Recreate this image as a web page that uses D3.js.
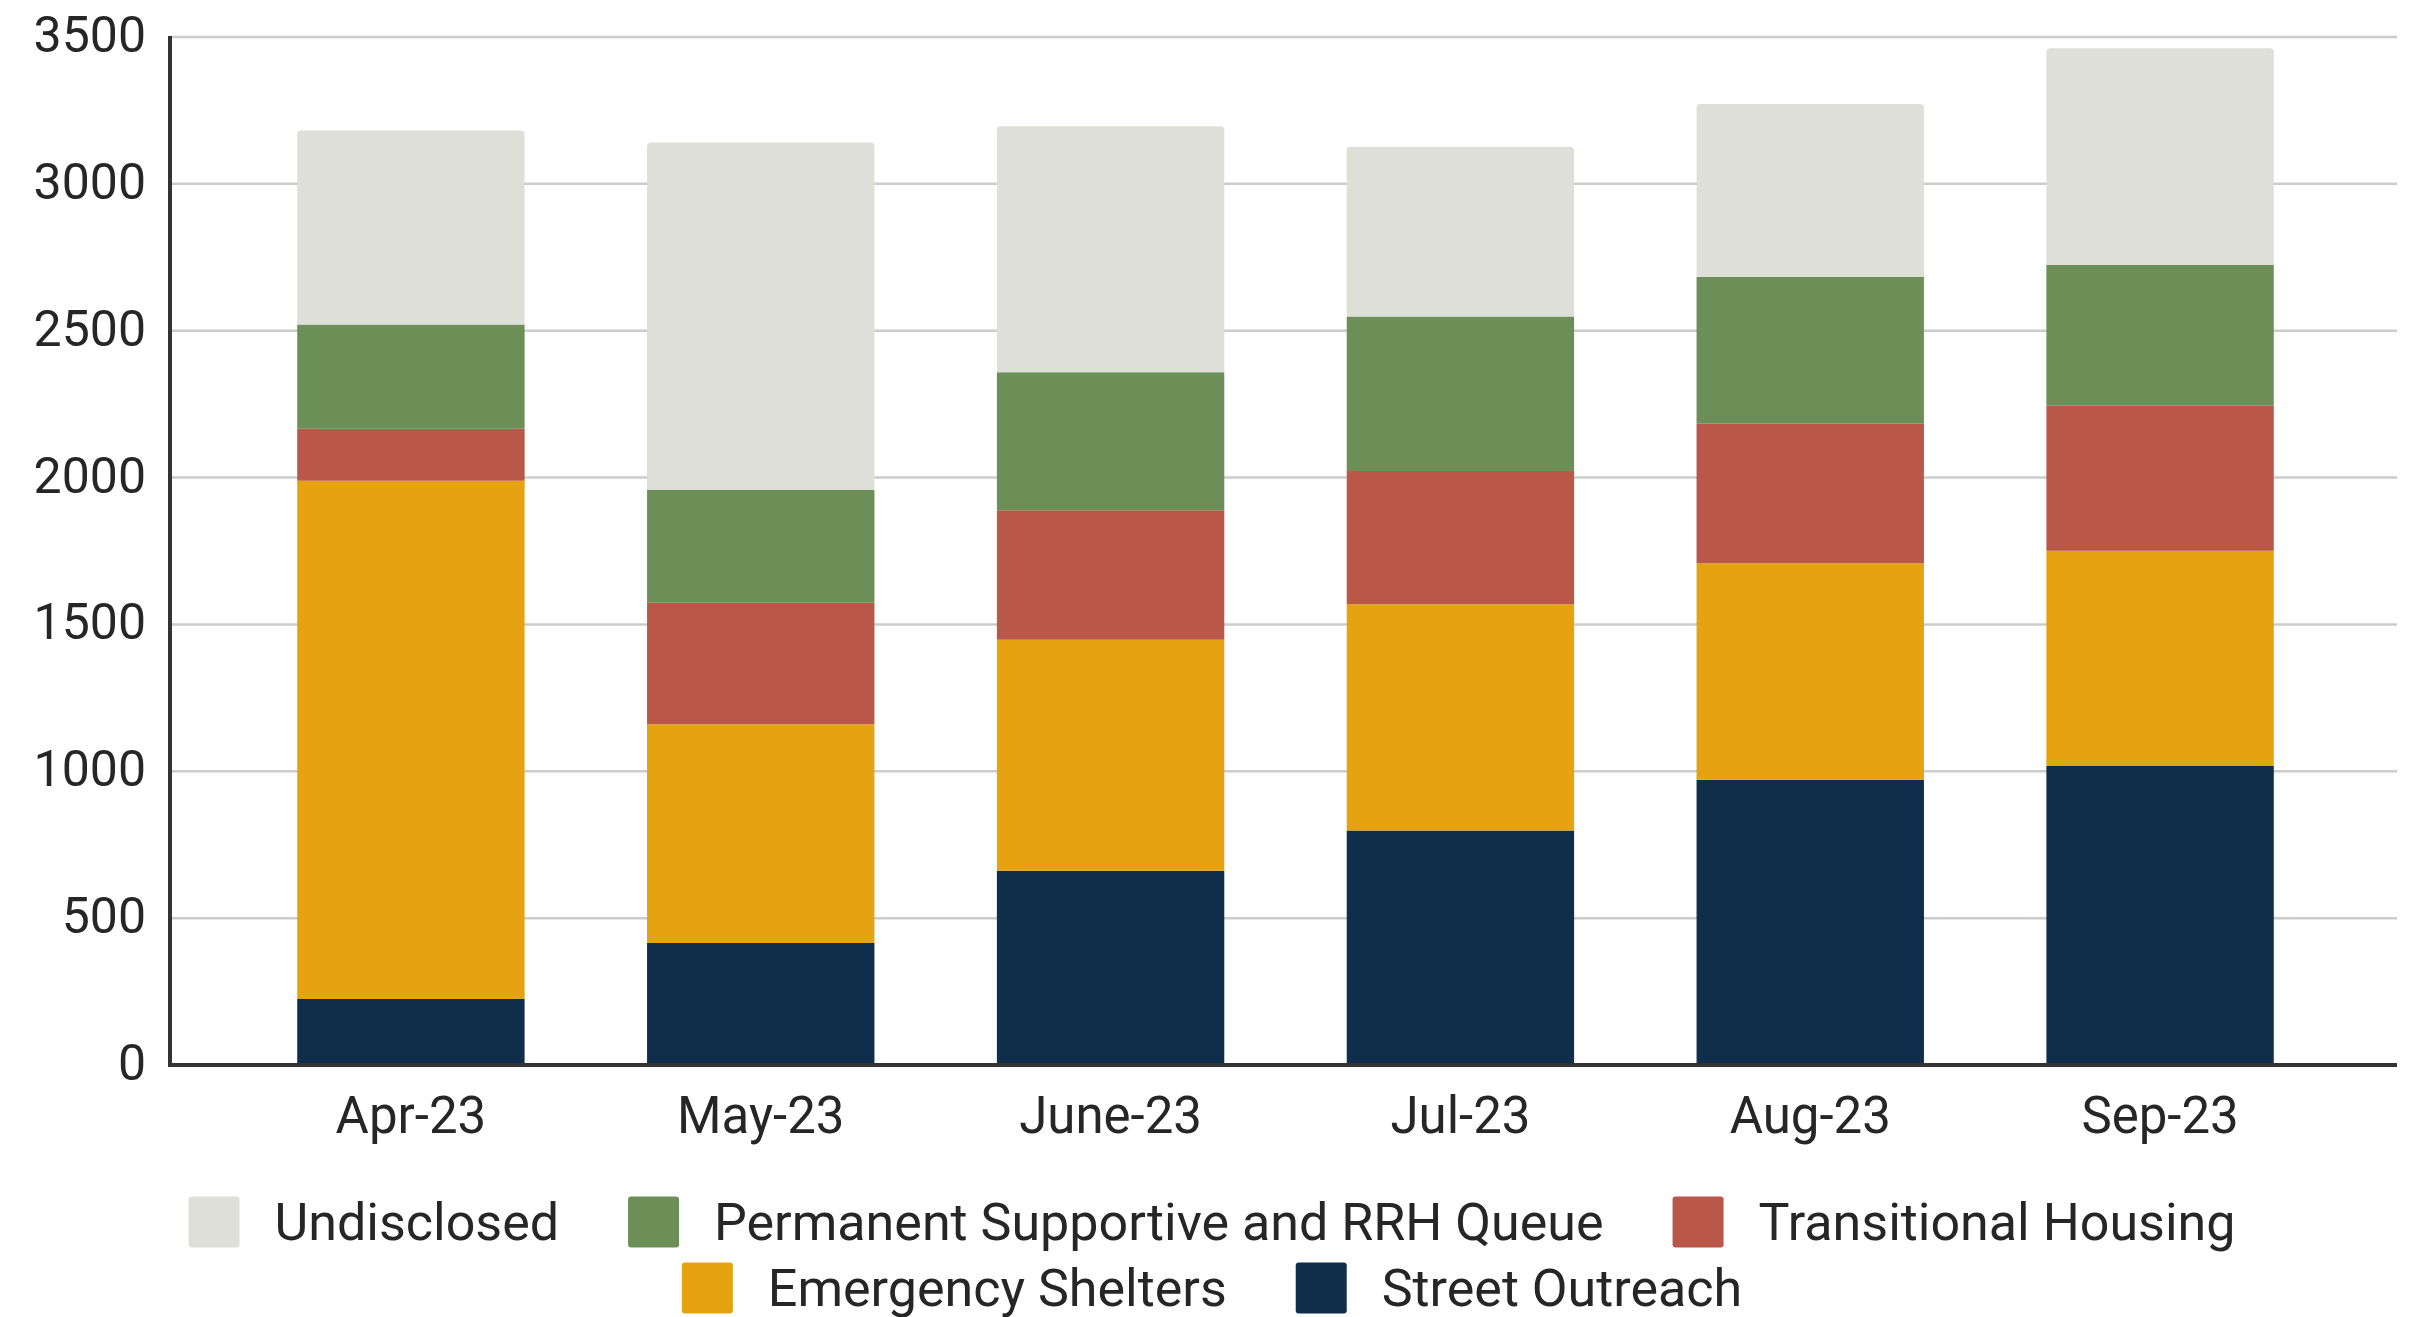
<!DOCTYPE html>
<html>
<head>
<meta charset="utf-8">
<script src="https://cdn.jsdelivr.net/npm/d3@7"></script>
<style>
  body { margin: 0; background: #fff; }
  text { font-family: Roboto, "Noto Sans", sans-serif; fill: #262626; }
</style>
</head>
<body>
<div id="chart-container"></div>
<script>
// months along the bottom
const months = ["Apr-23", "May-23", "June-23", "Jul-23", "Aug-23", "Sep-23"];

// series, bottom of stack first
const seriesNames = ["Street Outreach", "Emergency Shelters", "Transitional Housing", "Permanent Supportive and RRH Queue", "Undisclosed"];
const streetOutreach = [225, 415, 661, 798, 971, 1018];
const emergencyShelters = [1764, 745, 787, 771, 737, 733];
const transitionalHousing = [177, 414, 441, 453, 475, 494];
const permanentSupportive = [355, 384, 470, 526, 500, 480];
const undisclosed = [661, 1183, 837, 578, 589, 737];
const seriesColors = ["#0f2e4b", "#e5a312", "#b95849", "#6b8f57", "#dfdfd9"];

// legend order as shown (two rows)
const legendRows = [
  ["Undisclosed", "Permanent Supportive and RRH Queue", "Transitional Housing"],
  ["Emergency Shelters", "Street Outreach"]
];

const yTicks = [0, 500, 1000, 1500, 2000, 2500, 3000, 3500];

const width = 2417;
const height = 1317;
const plotLeft = 170, plotRight = 2397, plotTop = 37, plotBottom = 1065;

// build rows for d3.stack
const allSeries = [streetOutreach, emergencyShelters, transitionalHousing, permanentSupportive, undisclosed];
const rows = months.map((m, i) => {
  const r = { month: m };
  seriesNames.forEach((s, j) => { r[s] = allSeries[j][i]; });
  return r;
});

const stacked = d3.stack().keys(seriesNames)(rows);

const color = d3.scaleOrdinal().domain(seriesNames).range(seriesColors);

const x = d3.scaleBand()
  .domain(months)
  .range([236, 2335])
  .paddingInner(0.35)
  .paddingOuter(0.175);

const y = d3.scaleLinear()
  .domain([0, 3500])
  .range([plotBottom, plotTop]);

const svg = d3.select("#chart-container").append("svg")
  .attr("width", width)
  .attr("height", height);

// gridlines
svg.append("g")
  .selectAll("line")
  .data(yTicks.filter(d => d > 0))
  .enter().append("line")
    .attr("x1", plotLeft)
    .attr("x2", plotRight)
    .attr("y1", d => y(d))
    .attr("y2", d => y(d))
    .style("stroke", "#cccccc")
    .style("stroke-width", 2.5);

// y tick labels
svg.append("g")
  .selectAll("text")
  .data(yTicks)
  .enter().append("text")
    .attr("x", 146)
    .attr("y", d => y(d))
    .attr("dy", "0.3em")
    .attr("text-anchor", "end")
    .style("font-size", "50px")
    .text(d => d);

// rounded-top path for the last segment of each bar
function topRounded(x0, y0, w, h, r) {
  return `M${x0},${y0 + h}V${y0 + r}Q${x0},${y0} ${x0 + r},${y0}H${x0 + w - r}Q${x0 + w},${y0} ${x0 + w},${y0 + r}V${y0 + h}Z`;
}

// bars
const layer = svg.append("g")
  .selectAll("g")
  .data(stacked)
  .enter().append("g")
    .style("fill", d => color(d.key));

layer.each(function(s, si) {
  const isTop = si === stacked.length - 1;
  d3.select(this).selectAll("path")
    .data(s)
    .enter().append("path")
      .attr("d", d => {
        const x0 = x(d.data.month);
        const y0 = y(d[1]);
        const h = y(d[0]) - y(d[1]);
        return topRounded(x0, y0, x.bandwidth(), h, isTop ? 4 : 0);
      });
});

// axis lines
svg.append("line")
  .attr("x1", plotLeft).attr("x2", plotLeft)
  .attr("y1", y(3500) - 1).attr("y2", plotBottom + 2)
  .style("stroke", "#333").style("stroke-width", 4);

svg.append("line")
  .attr("x1", plotLeft).attr("x2", plotRight)
  .attr("y1", plotBottom).attr("y2", plotBottom)
  .style("stroke", "#333").style("stroke-width", 4);

// x labels
svg.append("g")
  .selectAll("text")
  .data(months)
  .enter().append("text")
    .attr("x", d => x(d) + x.bandwidth() / 2)
    .attr("y", 1115)
    .attr("dy", "0.35em")
    .attr("text-anchor", "middle")
    .style("font-size", "51px")
    .text(d => d);

// legend - centred rows
const legendCenter = 1212;
const rowY = [1222, 1288];
const sw = 51, gapText = 35, gapItem = 69;

legendRows.forEach((names, ri) => {
  const g = svg.append("g");
  let cursor = 0;
  names.forEach(name => {
    const item = g.append("g").attr("transform", `translate(${cursor},0)`);
    item.append("rect")
      .attr("x", 0)
      .attr("y", rowY[ri] - sw / 2)
      .attr("width", sw)
      .attr("height", sw)
      .attr("rx", 3)
      .style("fill", color(name));
    const t = item.append("text")
      .attr("x", sw + gapText)
      .attr("y", rowY[ri])
      .attr("dy", "0.35em")
      .style("font-size", "52px")
      .text(name);
    cursor += sw + gapText + t.node().getComputedTextLength() + gapItem;
  });
  const total = cursor - gapItem;
  g.attr("transform", `translate(${legendCenter - total / 2},0)`);
});
</script>
</body>
</html>
